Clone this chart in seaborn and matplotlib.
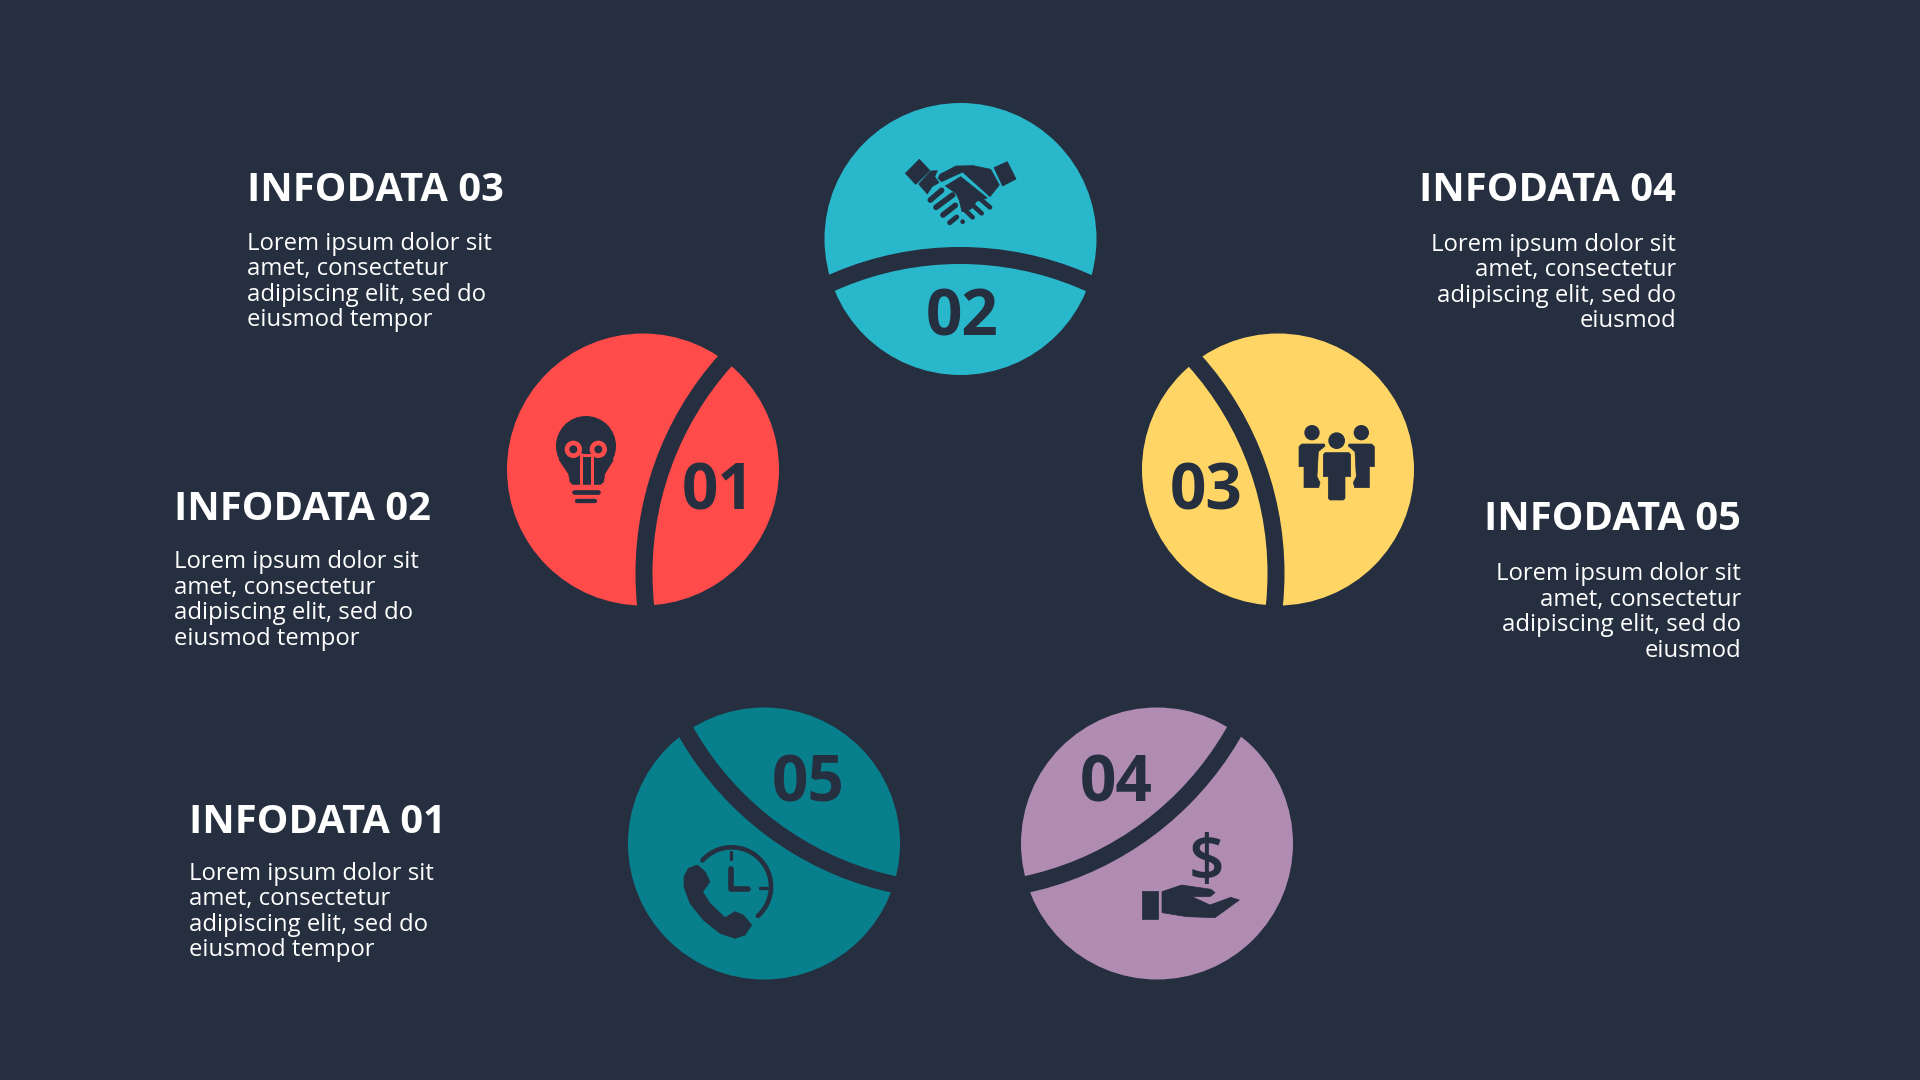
import numpy as np
import pandas as pd
import matplotlib
matplotlib.use("Agg")
import matplotlib.pyplot as plt
from matplotlib.patches import Polygon, Circle, Ellipse
import seaborn as sns

BG = "#252F3F"
numbers = ["01", "02", "03", "04", "05"]
circle_x = [643, 960.5, 1278, 1157, 764]
circle_y = [469.5, 239, 469.5, 843.5, 843.5]
colors = ["#FF4C4B", "#29B7CC", "#FFD666", "#B08BB2", "#087F8D"]
number_x = [718, 962, 1206, 1116, 808.5]
number_y = [509, 335, 509, 802, 802]

titles = ["INFODATA 03", "INFODATA 02", "INFODATA 01", "INFODATA 04", "INFODATA 05"]
title_x = [247, 174, 189, 1676, 1741]
title_y = [200.7, 520.5, 833, 200.7, 529.5]
body_left = ["Lorem ipsum dolor sit", "amet, consectetur", "adipiscing elit, sed do", "eiusmod tempor"]
body_right = ["Lorem ipsum dolor sit", "amet, consectetur", "adipiscing elit, sed do", "eiusmod"]
aligns = ["left", "left", "left", "right", "right"]
body_y = [250, 568.5, 880, 251, 580.5]

sns.set_theme(style="white")
plt.rcParams["font.family"] = ["Open Sans", "DejaVu Sans"]

fig = plt.figure(figsize=(19.2, 10.8), dpi=100, facecolor=BG)
ax = fig.add_axes([0, 0, 1, 1])
ax.set_facecolor(BG)

df = pd.DataFrame({"x": circle_x, "y": circle_y, "n": numbers})
sns.scatterplot(data=df, x="x", y="y", hue="n", palette=dict(zip(numbers, colors)),
                s=(272 * 0.72) ** 2, linewidth=0, legend=False, ax=ax, zorder=1)
ax.set_xlim(0, 1920)
ax.set_ylim(1080, 0)
ax.axis("off")

# the single ring that cuts every circle
ax.add_patch(Ellipse((960, 573.5), 632, 636, fill=False, ec=BG, lw=17 * 0.72, zorder=2))


def z(o, pts):
    return [(o[0] + a / 3, o[1] + b / 3) for a, b in pts]


def poly(o, pts, c=BG, zo=3):
    ax.add_patch(Polygon(z(o, pts), closed=True, fc=c, ec=c, lw=0.5, joinstyle="round", zorder=zo))


def stroke(o, pts, w, c=BG, zo=3):
    p = z(o, pts)
    ax.plot([q[0] for q in p], [q[1] for q in p], color=c, lw=w / 3 * 0.72,
            solid_capstyle="round", solid_joinstyle="round", zorder=zo)


def disc(o, x, y, r, c=BG, zo=3):
    ax.add_patch(Circle((o[0] + x / 3, o[1] + y / 3), r / 3, fc=c, ec="none", zorder=zo))


# handshake
o = (800, 80)
poly(o, [(316, 280), (358, 238), (390, 272), (347, 313)])
poly(o, [(582, 263), (622, 245), (648, 297), (608, 318)])
poly(o, [(356, 312), (393, 273), (412, 272), (404, 290), (417, 308), (396, 320), (382, 342)])
poly(o, [(420, 283), (468, 258), (520, 257), (572, 268), (598, 315), (570, 350), (488, 276), (425, 305), (414, 295)])
poly(o, [(482, 290), (562, 354), (530, 364), (512, 388), (486, 395), (478, 362), (468, 340), (436, 318)])
stroke(o, [(391, 360), (425, 331)], 17)
stroke(o, [(408, 382), (458, 345)], 17)
stroke(o, [(429, 405), (466, 376)], 17)
stroke(o, [(449, 428), (470, 411)], 15)
stroke(o, [(570, 382), (535, 352)], 14)
stroke(o, [(545, 400), (512, 370)], 14)
stroke(o, [(518, 412), (495, 390)], 14)
disc(o, 488, 425, 7)

# bulb
o = (490, 320)
R = colors[0]
ax.add_patch(Ellipse((o[0] + 288 / 3, o[1] + 378 / 3), 180 / 3, 180 / 3, fc=BG, ec="none", zorder=3))
poly(o, [(208, 420), (236, 462), (240, 485), (248, 493), (332, 493), (341, 485), (344, 462), (370, 420), (288, 390)])
for cx in (250, 325):
    disc(o, cx, 388, 26, R, 4)
    disc(o, cx, 388, 12, BG, 5)
stroke(o, [(272, 402), (272, 495)], 9, R, 4)
stroke(o, [(305, 402), (305, 495)], 9, R, 4)
stroke(o, [(272, 405), (305, 405)], 9, R, 4)
stroke(o, [(253, 515), (323, 515)], 14)
stroke(o, [(262, 542), (316, 542)], 13)

# people
o = (1130, 320)
disc(o, 546, 338, 23)
disc(o, 694, 338, 23)
disc(o, 620, 362, 25)
poly(o, [(507, 380), (515, 372), (583, 372), (585, 378), (565, 395), (561, 470), (570, 488), (566, 503), (522, 503), (522, 440), (507, 440)])
poly(o, [(733, 380), (725, 372), (657, 372), (655, 378), (675, 395), (679, 470), (670, 488), (674, 503), (718, 503), (718, 440), (733, 440)])
poly(o, [(585, 398), (657, 398), (662, 404), (662, 470), (645, 470), (645, 535), (640, 540), (600, 540), (595, 535), (595, 470), (580, 470), (580, 404)])

# hand with dollar
o = (1010, 690)
poly(o, [(397, 602), (443, 602), (443, 687), (397, 687)])
poly(o, [(456, 605), (515, 585), (603, 598), (615, 608), (600, 620), (546, 620), (600, 645), (662, 622), (688, 630), (615, 683), (530, 680), (456, 668)])
ax.text(o[0] + 590 / 3, o[1] + 571 / 3, "$", fontsize=45, fontweight="semibold", color=BG,
        ha="center", va="baseline", zorder=3)

# phone and clock
o = (610, 690)
t = np.radians(np.arange(-138, 50, 3))
stroke(o, list(zip(365 + 118 * np.cos(t), 590 + 118 * np.sin(t))), 14)
stroke(o, [(362, 487), (362, 508)], 10)
stroke(o, [(451, 594), (470, 594)], 10)
stroke(o, [(362, 537), (362, 597), (414, 597)], 17)
poly(o, [(222, 560), (235, 535), (262, 525), (285, 545), (300, 575), (278, 605), (300, 640), (345, 683),
         (375, 665), (400, 675), (425, 705), (405, 735), (375, 745), (330, 730), (280, 690), (240, 640), (222, 590)])

# numbers inside the circles
for n, x, y in zip(numbers, number_x, number_y):
    ax.text(x, y, n, fontsize=46, fontweight="bold", color=BG, ha="center", va="baseline", zorder=6)

# side texts
for t_, x, y, h, by in zip(titles, title_x, title_y, aligns, body_y):
    ax.text(x, y, t_, fontsize=28.7, fontweight="bold", color="white", ha=h, va="baseline", zorder=6)
    lines = body_left if h == "left" else body_right
    for k, line in enumerate(lines):
        ax.text(x, by + k * 25.4, line, fontsize=17.2, color="white", ha=h, va="baseline", zorder=6)

fig.savefig("out.png", dpi=100, facecolor=BG)
